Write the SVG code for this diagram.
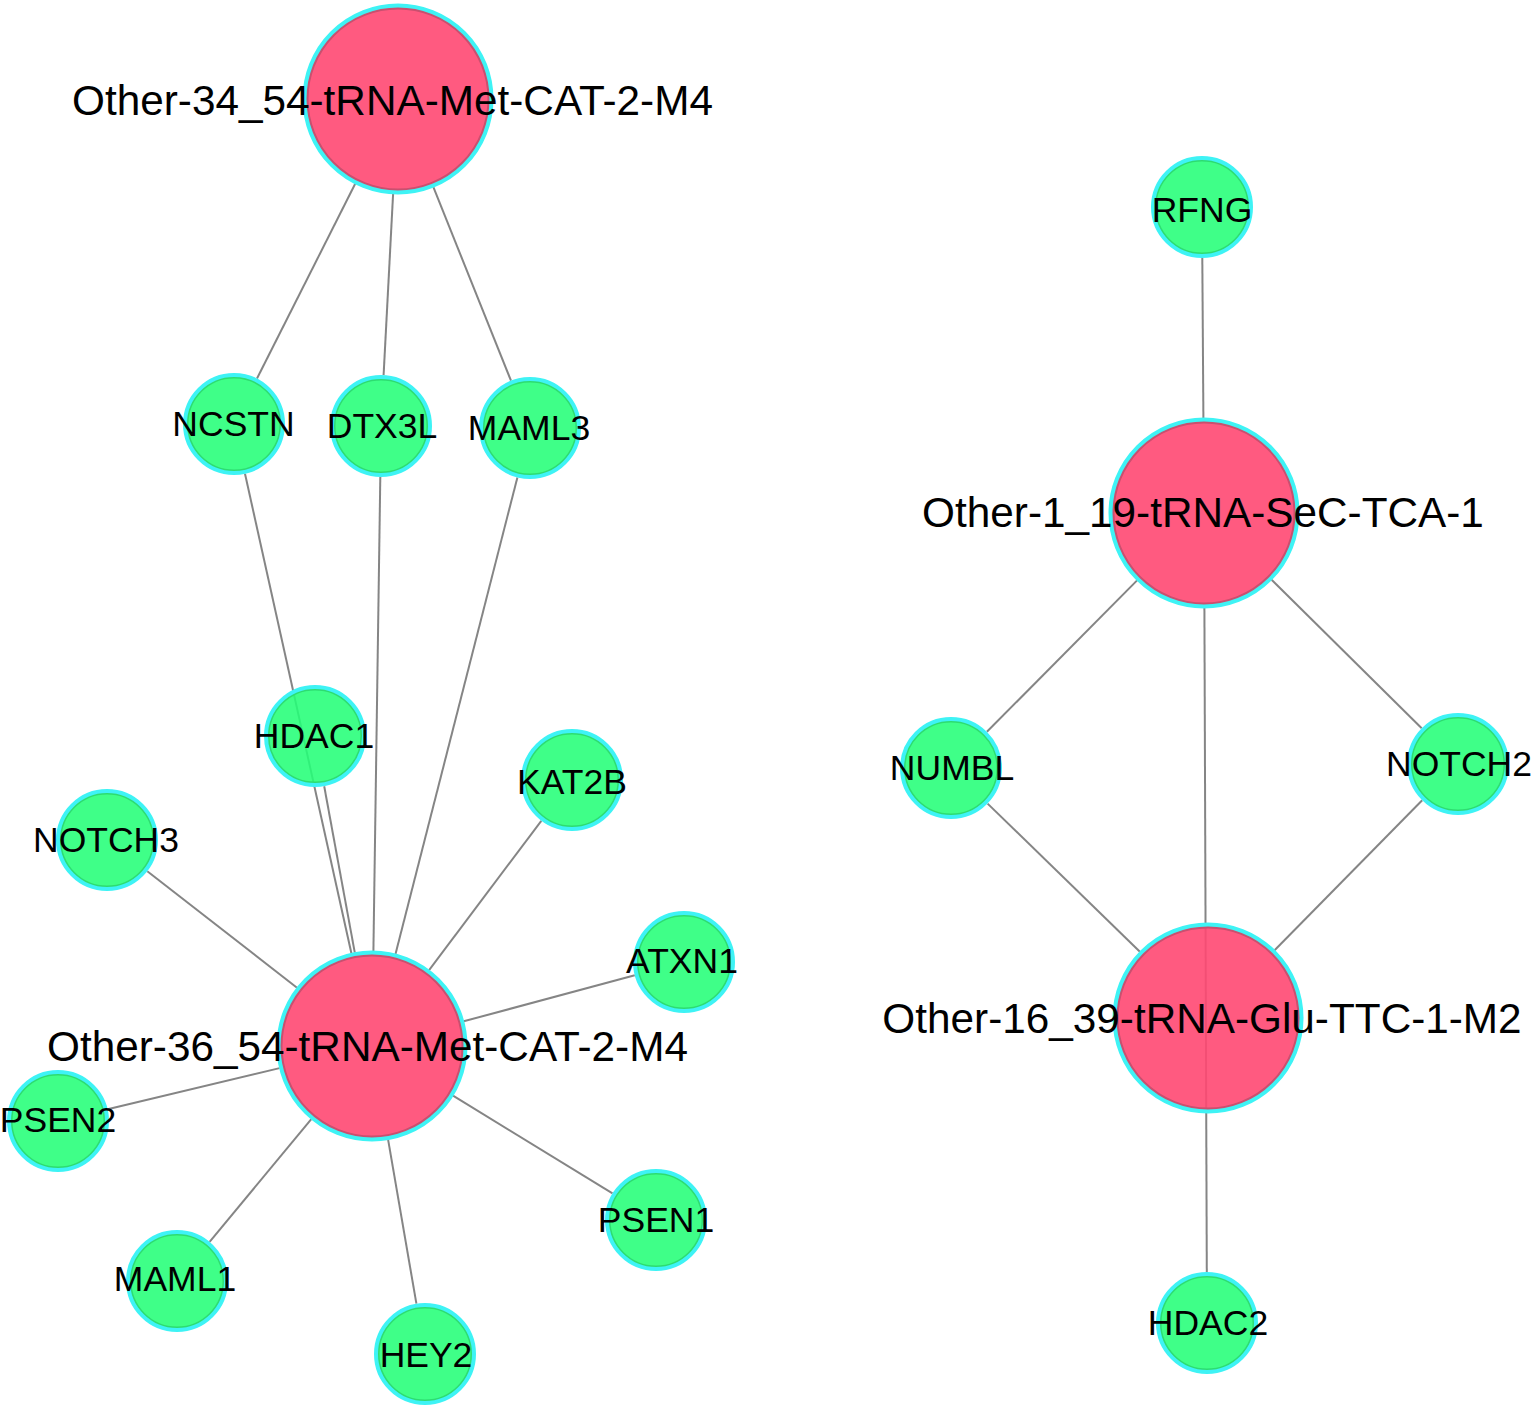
<svg xmlns="http://www.w3.org/2000/svg" width="1535" height="1409" viewBox="0 0 1535 1409">
<style>
.edge{stroke:#858585;stroke-width:2;fill:none}
.body-g{fill:#24FF78;fill-opacity:.88;stroke:#2EDC70;stroke-width:3}
.body-r{fill:#FF4872;fill-opacity:.9;stroke:#C9506F;stroke-width:3}
.ring{fill:none;stroke:#3EF3F5;stroke-width:4}
text{font-family:"Liberation Sans",Arial,Helvetica,sans-serif;fill:#000;text-anchor:middle}
.lg{font-size:42.3px}
.sm{font-size:35.5px}
</style>
<rect width="1535" height="1409" fill="#fff"/>
<g id="edges">
<line class="edge" x1="355.2" y1="183.8" x2="257.0" y2="378.5"/>
<line class="edge" x1="393.1" y1="193.9" x2="383.6" y2="375.1"/>
<line class="edge" x1="433.4" y1="187.2" x2="511.0" y2="380.7"/>
<line class="edge" x1="245.0" y1="473.8" x2="351.4" y2="953.3"/>
<line class="edge" x1="380.3" y1="477.0" x2="373.4" y2="951.0"/>
<line class="edge" x1="517.4" y1="477.4" x2="395.5" y2="954.0"/>
<line class="edge" x1="324.2" y1="786.2" x2="354.8" y2="952.6"/>
<line class="edge" x1="541.3" y1="820.8" x2="429.1" y2="970.1"/>
<line class="edge" x1="147.3" y1="871.3" x2="297.0" y2="987.7"/>
<line class="edge" x1="634.8" y1="975.3" x2="463.7" y2="1021.3"/>
<line class="edge" x1="107.6" y1="1109.2" x2="279.6" y2="1068.1"/>
<line class="edge" x1="453.0" y1="1095.6" x2="612.5" y2="1193.4"/>
<line class="edge" x1="311.3" y1="1119.1" x2="209.6" y2="1241.8"/>
<line class="edge" x1="388.1" y1="1139.6" x2="416.4" y2="1303.7"/>
<line class="edge" x1="1202.3" y1="258" x2="1203.4" y2="418"/>
<line class="edge" x1="1137.1" y1="580.4" x2="986.9" y2="731.8"/>
<line class="edge" x1="1271.6" y1="579.8" x2="1421.7" y2="728.2"/>
<line class="edge" x1="987.6" y1="803.6" x2="1139.9" y2="951.7"/>
<line class="edge" x1="1422.2" y1="800.3" x2="1274.6" y2="950.3"/>
<line class="edge" x1="1204.4" y1="608" x2="1206.8" y2="1272"/>
</g>
<g id="node-Other-34">
<circle class="body-r" cx="398" cy="99" r="91"/><circle class="ring" cx="398" cy="99" r="93.5"/>
<text class="lg" x="392.5" y="115">Other-34_54-tRNA-Met-CAT-2-M4</text>
</g>
<g id="node-Other-36">
<circle class="body-r" cx="372" cy="1046" r="91"/><circle class="ring" cx="372" cy="1046" r="93.5"/>
<text class="lg" x="367.5" y="1061">Other-36_54-tRNA-Met-CAT-2-M4</text>
</g>
<g id="node-Other-1">
<circle class="body-r" cx="1204" cy="513" r="91"/><circle class="ring" cx="1204" cy="513" r="93.5"/>
<text class="lg" x="1203" y="527">Other-1_19-tRNA-SeC-TCA-1</text>
</g>
<g id="node-Other-16">
<circle class="body-r" cx="1208" cy="1018" r="91"/><circle class="ring" cx="1208" cy="1018" r="93.5"/>
<text class="lg" x="1202" y="1033">Other-16_39-tRNA-Glu-TTC-1-M2</text>
</g>
<g id="node-NCSTN"><circle class="body-g" cx="234" cy="424" r="47"/><circle class="ring" cx="234" cy="424" r="49"/><text class="sm" x="233.5" y="436">NCSTN</text></g>
<g id="node-DTX3L"><circle class="body-g" cx="381" cy="426" r="47"/><circle class="ring" cx="381" cy="426" r="49"/><text class="sm" x="382" y="438">DTX3L</text></g>
<g id="node-MAML3"><circle class="body-g" cx="530" cy="428" r="47"/><circle class="ring" cx="530" cy="428" r="49"/><text class="sm" x="529" y="440">MAML3</text></g>
<g id="node-HDAC1"><circle class="body-g" cx="315" cy="736" r="47"/><circle class="ring" cx="315" cy="736" r="49"/><text class="sm" x="314" y="748">HDAC1</text></g>
<g id="node-KAT2B"><circle class="body-g" cx="572" cy="780" r="47"/><circle class="ring" cx="572" cy="780" r="49"/><text class="sm" x="572" y="794">KAT2B</text></g>
<g id="node-NOTCH3"><circle class="body-g" cx="107" cy="840" r="47"/><circle class="ring" cx="107" cy="840" r="49"/><text class="sm" x="106" y="852">NOTCH3</text></g>
<g id="node-ATXN1"><circle class="body-g" cx="684" cy="962" r="47"/><circle class="ring" cx="684" cy="962" r="49"/><text class="sm" x="682" y="973">ATXN1</text></g>
<g id="node-PSEN2"><circle class="body-g" cx="58" cy="1121" r="47"/><circle class="ring" cx="58" cy="1121" r="49"/><text class="sm" x="58" y="1132">PSEN2</text></g>
<g id="node-PSEN1"><circle class="body-g" cx="656" cy="1220" r="47"/><circle class="ring" cx="656" cy="1220" r="49"/><text class="sm" x="656" y="1232">PSEN1</text></g>
<g id="node-MAML1"><circle class="body-g" cx="177" cy="1281" r="47"/><circle class="ring" cx="177" cy="1281" r="49"/><text class="sm" x="175" y="1291">MAML1</text></g>
<g id="node-HEY2"><circle class="body-g" cx="425" cy="1354" r="47"/><circle class="ring" cx="425" cy="1354" r="49"/><text class="sm" x="426" y="1367">HEY2</text></g>
<g id="node-RFNG"><circle class="body-g" cx="1202" cy="207" r="47"/><circle class="ring" cx="1202" cy="207" r="49"/><text class="sm" x="1202" y="222">RFNG</text></g>
<g id="node-NUMBL"><circle class="body-g" cx="951" cy="768" r="47"/><circle class="ring" cx="951" cy="768" r="49"/><text class="sm" x="952" y="780">NUMBL</text></g>
<g id="node-NOTCH2"><circle class="body-g" cx="1458" cy="764" r="47"/><circle class="ring" cx="1458" cy="764" r="49"/><text class="sm" x="1459" y="776">NOTCH2</text></g>
<g id="node-HDAC2"><circle class="body-g" cx="1207" cy="1323" r="47"/><circle class="ring" cx="1207" cy="1323" r="49"/><text class="sm" x="1208" y="1335">HDAC2</text></g>
</svg>
